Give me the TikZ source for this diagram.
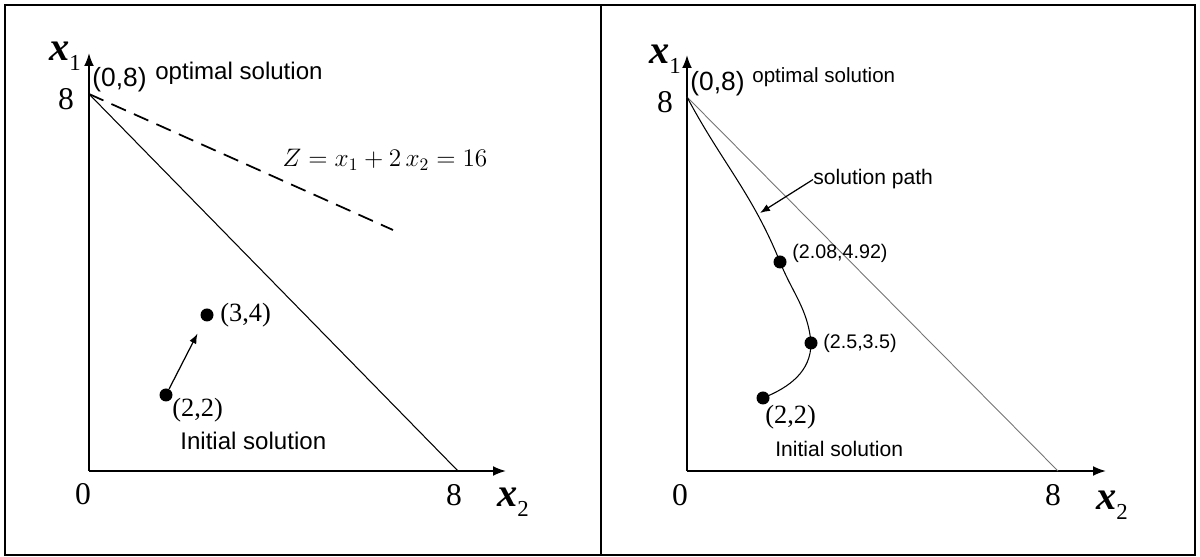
\documentclass[tikz,border=0pt]{standalone}
\usepackage{fontspec}
\setmainfont{Liberation Serif}
\newfontfamily\arialf{Liberation Sans}
\usetikzlibrary{arrows.meta,positioning}
\newcommand{\axv}[1]{x\raisebox{-0.25em}{\fontsize{13}{13}\selectfont\mdseries\upshape #1}}
\tikzset{
  panel/.style={line width=0.8pt},
  axis/.style={line width=1.1pt,-{Latex[length=2.6mm,width=2mm]}},
  dot/.style={circle,fill,inner sep=0pt,minimum size=2.6mm},
  num/.style={font=\fontsize{18}{18}\selectfont,inner sep=0pt},
  var/.style={font=\fontsize{23}{23}\selectfont\bfseries\itshape,inner sep=0pt},
  pt/.style={font=\fontsize{15}{15}\selectfont,inner sep=0pt},
  lbl/.style={font=\arialf\fontsize{#1}{#1}\selectfont,inner sep=0pt},
  lbl/.default=12,
  arr/.style={line width=0.7pt,-{Latex[length=2mm,width=1.5mm]}}
}
\begin{document}
\begin{tikzpicture}[x=0.02cm,y=0.02cm]
    \useasboundingbox (0,0) rectangle (1200,557);
    \draw[panel] (5,2) rectangle (1195,552);
    \draw[panel] (601,2) -- (601,552);

    \coordinate (O1) at (89,86);
    \coordinate (Y1) at (89,504);
    \coordinate (X1) at (506,86);
    \coordinate (A1) at (89,463);
    \coordinate (B1) at (458,86);
    \coordinate (Zend) at (393,327);
    \draw[axis] (O1) -- (Y1);
    \draw[axis] (O1) -- (X1);
    \draw[line width=0.6pt] (A1) -- (B1);
    \draw[line width=1pt,dash pattern=on 9pt off 5pt] (A1) -- (Zend);
    \node[num] (zeroL) at (83,63) {0};
    \node[num] (eightxL) at (454,62) {8};
    \node[num] (eightyL) at (66,458) {8};
    \node[var] (x1L) at (65,501) {\axv{1}};
    \node[var] (x2L) at (513,55) {\axv{2}};
    \node[lbl=15,anchor=base west] (optL0) at (92,470) {(0,8)};
    \node[lbl=13.7,anchor=base west] (optL) at (155,477) {optimal solution};
    \node[font=\fontsize{14}{14}\selectfont,inner sep=0pt] (zlbl) at (385,397) {$Z = x_1 + 2\,x_2 = 16$};
    \node[dot] (p22) at (166,162) {};
    \node[dot] (p34) at (207,242) {};
    \draw[arr,shorten >=2.8mm] (p22) -- (p34);
    \node[pt,anchor=west] (l34) at (220,242) {(3,4)};
    \node[pt,anchor=west] (l22) at (172,147) {(2,2)};
    \node[lbl=13.7,anchor=base west] (initL) at (180,107) {Initial solution};

    \coordinate (O2) at (687,86);
    \coordinate (Y2) at (687,502);
    \coordinate (X2) at (1106,86);
    \coordinate (A2) at (687,460);
    \coordinate (B2) at (1058,86);
    \coordinate (sptip) at (760,344);
    \draw[axis] (O2) -- (Y2);
    \draw[axis] (O2) -- (X2);
    \draw[line width=0.5pt,black!55] (A2) -- (B2);
    \node[num] (zeroR) at (680,62) {0};
    \node[num] (eightxR) at (1053,62) {8};
    \node[num] (eightyR) at (665,455) {8};
    \node[var] (x1R) at (665,498) {\axv{1}};
    \node[var] (x2R) at (1112,52) {\axv{2}};
    \node[lbl=15,anchor=base west] (optR0) at (690,466) {(0,8)};
    \node[lbl=11.7,anchor=base west] (optR) at (752,474) {optimal solution};
    \node[dot] (d1) at (780,295) {};
    \node[dot] (d2) at (811,214) {};
    \node[dot] (d3) at (763,159) {};
    \draw[line width=0.6pt] (A2) to[out=-62,in=112] (d1.center) to[out=-68,in=95] (d2.center) to[out=-90,in=22] (d3.center);
    \node[lbl=11.2,anchor=west] (ld1) at (792,304) {(2.08,4.92)};
    \node[lbl=11.2,anchor=west] (ld2) at (823,214) {(2.5,3.5)};
    \node[pt,anchor=west] (ld3) at (765,140) {(2,2)};
    \node[lbl=12,anchor=base west] (initR) at (775,100) {Initial solution};
    \node[lbl=12,anchor=base west] (sp) at (813,372) {solution path};
    \draw[arr] (sp.west) -- (sptip);
\end{tikzpicture}
\end{document}
